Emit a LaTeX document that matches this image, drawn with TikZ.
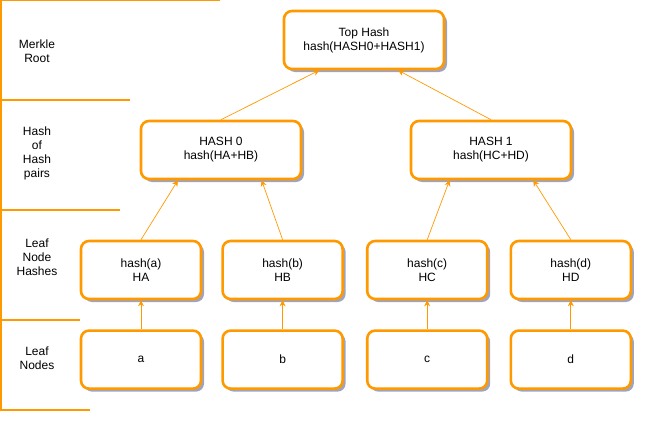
\documentclass[tikz,border=0pt]{standalone}
\usepackage{fontspec}
\setmainfont{Liberation Sans}
\usepackage{xcolor}
\usetikzlibrary{arrows.meta,positioning,shadows,calc}
\definecolor{mkorange}{HTML}{FF9900}
\definecolor{mkshadow}{HTML}{7F86A8}

\begin{document}
\begin{tikzpicture}[x=1pt, y=-1pt, every node/.style={font=\fontsize{12}{14}\selectfont}]
\tikzstyle{hbox} = [rectangle, rounded corners=8pt, minimum width=120pt, minimum height=58pt, align=center, draw=mkorange, line width=2.6pt, fill=white, drop shadow={shadow xshift=3pt, shadow yshift=-3pt, fill=mkshadow, opacity=0.75}]
\tikzstyle{wbox} = [hbox, minimum width=160pt]
\tikzstyle{level} = [align=center, text width=60pt]
\tikzstyle{arrow} = [draw=mkorange, line width=0.7pt, ->, >={Stealth[length=6pt,width=6pt]}]
\tikzstyle{rule} = [draw=mkorange, line width=1.2pt]

\useasboundingbox (0,0) rectangle (645,423);

% level bars on the left
\draw[rule] (220,0.6) -- (1,0.6) -- (1,410) -- (90,410);
\draw[rule] (1,100) -- (130,100);
\draw[rule] (1,210) -- (120,210);
\draw[rule] (1,320) -- (80,320);

\node (lroot) [level] at (37,51) {Merkle\\Root};
\node (lpairs) [level] at (37,153) {Hash\\of\\Hash\\pairs};
\node (lhashes) [level] at (37,257) {Leaf\\Node\\Hashes};
\node (lleaves) [level] at (37,358) {Leaf\\Nodes};

% tree
\node (top) [wbox] at (364,40) {Top Hash\\hash(HASH0+HASH1)};
\node (hash0) [wbox] at (221,150) {HASH 0\\hash(HA+HB)};
\node (hash1) [wbox] at (491,150) {HASH 1\\hash(HC+HD)};
\node (ha) [hbox] at (141,270) {hash(a)\\HA};
\node (hb) [hbox, right=19pt of ha] {hash(b)\\HB};
\node (hc) [hbox, right=22pt of hb] {hash(c)\\HC};
\node (hd) [hbox, right=21pt of hc] {hash(d)\\HD};
\node (a) [hbox, below=29pt of ha] {a};
\node (b) [hbox, below=29pt of hb] {b};
\node (c) [hbox, below=29pt of hc] {c};
\node (d) [hbox, below=29pt of hd] {d};

\draw[arrow] (a) -- (ha);
\draw[arrow] (b) -- (hb);
\draw[arrow] (c) -- (hc);
\draw[arrow] (d) -- (hd);
\draw[arrow] (ha.north) -- ($(hash0.south west)!0.235!(hash0.south east)$);
\draw[arrow] (hb.north) -- ($(hash0.south west)!0.75!(hash0.south east)$);
\draw[arrow] (hc.north) -- ($(hash1.south west)!0.245!(hash1.south east)$);
\draw[arrow] (hd.north) -- ($(hash1.south west)!0.76!(hash1.south east)$);
\draw[arrow] (hash0.north) -- ($(top.south west)!0.225!(top.south east)$);
\draw[arrow] (hash1.north) -- ($(top.south west)!0.71!(top.south east)$);
\end{tikzpicture}
\end{document}
